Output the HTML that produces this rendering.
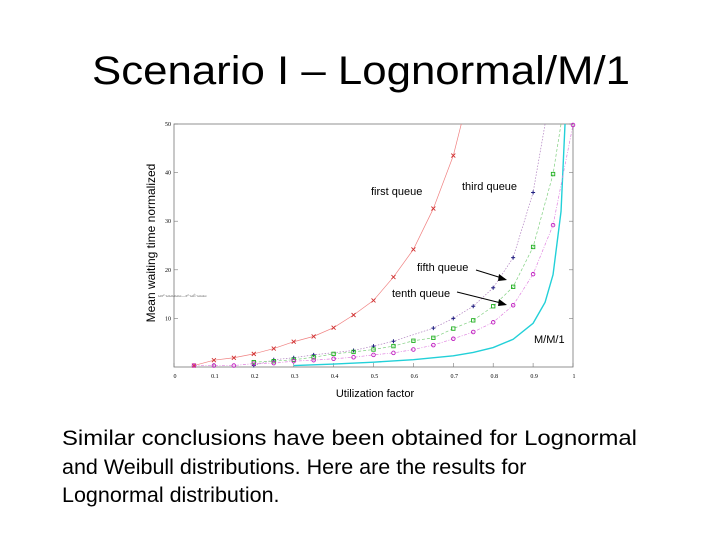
<!DOCTYPE html>
<html><head><meta charset="utf-8"><style>
html,body{margin:0;padding:0;background:#fff;}
svg{display:block;font-family:"Liberation Sans",Arial,sans-serif;}
</style></head><body>
<svg id="s" width="720" height="540" viewBox="0 0 720 540">
<text x="361" y="84" font-size="40" text-anchor="middle" textLength="538" lengthAdjust="spacingAndGlyphs">Scenario I – Lognormal/M/1</text>
<g>
<rect x="174" y="124" width="399" height="243" fill="none" stroke="#777" stroke-width="0.8"/>
<g id="ticks"></g>
<g id="series"></g>
<text transform="translate(155,243) rotate(-90)" font-size="12" text-anchor="middle">Mean waiting time normalized</text>
<text x="375" y="397" font-size="11" text-anchor="middle">Utilization factor</text>
<text x="158" y="297" font-size="4" fill="#666">ωx²·ωωωωω—x²·ωÈ·ωωω</text>
<text x="371" y="195" font-size="11">first queue</text>
<text x="462" y="190" font-size="11">third queue</text>
<text x="417" y="271" font-size="11">fifth queue</text>
<text x="392" y="297" font-size="11">tenth queue</text>
<text x="534" y="343" font-size="11">M/M/1</text>
<line x1="476" y1="270" x2="505" y2="279" stroke="#000" stroke-width="1"/>
<polygon points="507,280 499,274 498,281" fill="#000"/>
<line x1="457" y1="292" x2="505" y2="304" stroke="#000" stroke-width="1"/>
<polygon points="507,305 499,299 498,306" fill="#000"/>
</g>
<g font-size="21.5">
<text x="62" y="445" textLength="575" lengthAdjust="spacingAndGlyphs">Similar conclusions have been obtained for Lognormal</text>
<text x="62" y="474">and Weibull distributions. Here are the results for</text>
<text x="62" y="502">Lognormal distribution.</text>
</g>
</svg>
<script>
const xFirst=[0.05,0.1,0.15,0.2,0.25,0.3,0.35,0.4,0.45,0.5,0.55,0.6,0.65,0.7,0.72];
const yFirst=[0.3,1.4,1.9,2.7,3.8,5.2,6.3,8.1,10.7,13.7,18.5,24.2,32.6,43.5,50];
const xThird=[0.2,0.25,0.3,0.35,0.45,0.5,0.55,0.65,0.7,0.75,0.8,0.85,0.9,0.93];
const yThird=[0.3,1.5,1.9,2.5,3.4,4.3,5.3,8.0,10,12.5,16.3,22.5,35.9,50];
const xFifth=[0.2,0.25,0.3,0.35,0.4,0.45,0.5,0.55,0.6,0.65,0.7,0.75,0.8,0.85,0.9,0.95,0.97];
const yFifth=[1,1.2,1.5,2,2.7,3.1,3.6,4.3,5.4,6,7.9,9.6,12.5,16.5,24.7,39.7,50];
const xTenth=[0.05,0.1,0.15,0.2,0.25,0.3,0.35,0.4,0.45,0.5,0.55,0.6,0.65,0.7,0.75,0.8,0.85,0.9,0.95,1.0];
const yTenth=[0.3,0.3,0.3,0.7,0.8,1.2,1.4,1.7,2,2.5,2.9,3.6,4.5,5.8,7.2,9.2,12.7,19.1,29.2,49.8];
const xMM1=[0.3,0.4,0.5,0.6,0.7,0.75,0.8,0.85,0.9,0.93,0.95,0.97,0.98];
const yMM1=[0.3,0.6,1,1.5,2.3,3,4,5.7,9,13.3,19,32,50];
const xTicks=[0,0.1,0.2,0.3,0.4,0.5,0.6,0.7,0.8,0.9,1];
const yTicks=[10,20,30,40,50];
const X=v=>174+v*399, Y=v=>367-v*4.86;
const NS="http://www.w3.org/2000/svg";
const tg=document.getElementById('ticks'), sg=document.getElementById('series');
function mk(tag,at,par){const e=document.createElementNS(NS,tag);for(const k in at)e.setAttribute(k,at[k]);par.appendChild(e);return e;}
xTicks.forEach(t=>{
 const l=mk('line',{x1:X(t),x2:X(t),y1:367,y2:363,stroke:'#777','stroke-width':0.6},tg);
 
 
 const tx=mk('text',{x:X(t)+1,y:378,'font-size':6,'text-anchor':'middle','font-family':'Liberation Serif,serif'},tg);
 tx.textContent=t;
 
 
});
yTicks.forEach(t=>{
 const l=mk('line',{x1:174,x2:178,y1:Y(t),y2:Y(t),stroke:'#777','stroke-width':0.6},tg);
 
 
 const l2=mk('line',{x1:569,x2:573,y1:Y(t),y2:Y(t),stroke:'#777','stroke-width':0.6},tg);
 
 
 const tx=mk('text',{x:171,y:Y(t)+2,'font-size':6,'text-anchor':'end','font-family':'Liberation Serif,serif'},tg);
 tx.textContent=t;
 
 
});
function line(xs,ys,color,w,dash,name){
 const p=mk('polyline',{points:xs.map((x,i)=>X(x)+','+Y(ys[i])).join(' '),fill:'none',stroke:color,'stroke-width':w,'stroke-dasharray':dash},sg);
 
 
}
function marks(xs,ys,color,type,name){
 xs.forEach((x,i)=>{
  if(ys[i]>=50&&type!=='o')return;
  const cx=X(x),cy=Y(ys[i]);let e;
  if(type==='x')e=mk('path',{d:`M${cx-2},${cy-2}L${cx+2},${cy+2}M${cx-2},${cy+2}L${cx+2},${cy-2}`,stroke:color,'stroke-width':0.9,fill:'none'},sg);
  else if(type==='+')e=mk('path',{d:`M${cx-2},${cy}L${cx+2},${cy}M${cx},${cy-2}L${cx},${cy+2}`,stroke:color,'stroke-width':1,fill:'none'},sg);
  else if(type==='s')e=mk('rect',{x:cx-1.7,y:cy-1.7,width:3.4,height:3.4,stroke:color,'stroke-width':0.9,fill:'none'},sg);
  else e=mk('circle',{cx:cx,cy:cy,r:1.8,stroke:color,'stroke-width':0.9,fill:'none'},sg);
  
  
 });
}
line(xMM1,yMM1,'#22d0d8',1.4,'','mm1-line');
line(xFirst,yFirst,'#f08080',0.7,'','first-queue-line');
line(xThird,yThird,'#b080c0',0.7,'1.5,1.5','third-queue-line');
line(xFifth,yFifth,'#80d080',0.7,'3,2','fifth-queue-line');
line(xTenth,yTenth,'#e080e0',0.7,'3,1.5,1,1.5','tenth-queue-line');
marks(xFirst,yFirst,'#d03030','x','first-queue-point');
marks(xThird,yThird,'#202080','+','third-queue-point');
marks(xFifth,yFifth,'#20b020','s','fifth-queue-point');
marks(xTenth,yTenth,'#c020c0','o','tenth-queue-point');
</script>
</body></html>
